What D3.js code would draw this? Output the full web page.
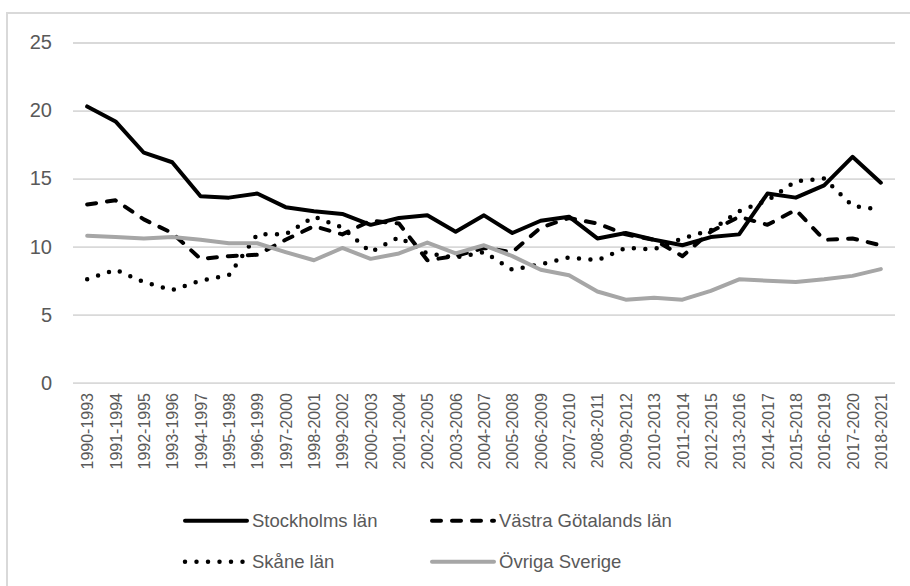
<!DOCTYPE html>
<html>
<head>
<meta charset="utf-8">
<script src="https://cdn.jsdelivr.net/npm/d3@7"></script>
<style>
  body { margin: 0; background: #fff; }
  text { font-family: "Liberation Sans", Arial, sans-serif; fill: #595959; }
</style>
</head>
<body>
<div id="chart"></div>
<script>
// periods on the x axis
const periods = d3.range(1990, 2019).map(y => y + "-" + (y + 3));

const stockholm = [20.3, 19.2, 16.9, 16.2, 13.7, 13.6, 13.9, 12.9, 12.6, 12.4, 11.6, 12.1, 12.3, 11.1, 12.3,
    11.0, 11.9, 12.2, 10.6, 11.0, 10.5, 10.1, 10.7, 10.9, 13.9, 13.6, 14.5, 16.6, 14.7];
const vastra = [13.1, 13.4, 12.0, 11.0, 9.1, 9.3, 9.4, 10.5, 11.5, 10.9, 11.9, 11.7, 9.0, 9.3, 9.9,
    9.6, 11.4, 12.1, 11.7, 10.9, 10.5, 9.3, 11.1, 12.2, 11.6, 12.7, 10.5, 10.6, 10.1];
const skane = [7.6, 8.3, 7.4, 6.8, 7.5, 7.9, 10.9, 10.9, 12.2, 11.4, 9.6, 10.7, 9.5, 9.2, 9.6,
    8.3, 8.7, 9.2, 9.0, 9.9, 9.8, 10.6, 11.2, 12.6, 13.4, 14.8, 15.0, 13.0, 12.7];
const ovriga = [10.8, 10.7, 10.6, 10.7, 10.5, 10.25, 10.25, 9.6, 9.0, 9.9, 9.1, 9.5, 10.3, 9.5, 10.1,
    9.3, 8.3, 7.9, 6.7, 6.1, 6.25, 6.1, 6.75, 7.6, 7.5, 7.4, 7.6, 7.85, 8.35];

const yTicks = [0, 5, 10, 15, 20, 25];

const series = [
    {name: "Stockholms län", values: stockholm, color: "#000", width: 4, dash: null},
    {name: "Västra Götalands län", values: vastra, color: "#000", width: 4, dash: "9,11"},
    {name: "Skåne län", values: skane, color: "#000", width: 4.5, dash: "0,11.5"},
    {name: "Övriga Sverige", values: ovriga, color: "#a6a6a6", width: 4, dash: null}
];

const W = 910, H = 586;

const svg = d3.select("#chart")
    .append("svg")
    .attr("width", W)
    .attr("height", H);

// outer frame
svg.append("rect")
    .attr("x", 7).attr("y", 13)
    .attr("width", W).attr("height", H)
    .attr("fill", "none")
    .attr("stroke", "#d9d9d9")
    .attr("stroke-width", 2);

const x = d3.scalePoint()
    .domain(periods)
    .range([73, 895])
    .padding(0.5);

const y = d3.scaleLinear()
    .domain([0, 25])
    .range([382.7, 42.5]);

// gridlines + y labels
const yAxis = svg.append("g")
    .attr("transform", "translate(73,0)")
    .call(d3.axisLeft(y).tickValues(yTicks).tickSize(-(895 - 73)));
yAxis.select(".domain").remove();
yAxis.selectAll("line").attr("stroke", "#d9d9d9").attr("stroke-width", 1.8);
yAxis.selectAll("text")
    .attr("font-size", 20)
    .attr("x", -21)
    .style("font-family", "Liberation Sans, Arial, sans-serif")
    .attr("fill", "#595959");

// x labels
const xAxis = svg.append("g")
    .attr("transform", "translate(0,383)")
    .call(d3.axisBottom(x).tickSize(0));
xAxis.select(".domain").remove();
xAxis.selectAll("text")
    .attr("font-size", 16)
    .attr("transform", "rotate(-90)")
    .attr("text-anchor", "end")
    .attr("x", -10)
    .attr("y", 0)
    .attr("dy", "0.35em")
    .style("font-family", "Liberation Sans, Arial, sans-serif")
    .attr("fill", "#595959");

const line = d3.line()
    .x((d, i) => x(periods[i]))
    .y(d => y(d));

svg.selectAll(".series")
    .data(series)
    .enter().append("path")
    .attr("class", "series")
    .attr("d", d => line(d.values))
    .attr("fill", "none")
    .attr("stroke", d => d.color)
    .attr("stroke-width", d => d.width)
    .attr("stroke-dasharray", d => d.dash)
    .attr("stroke-linecap", "round")
    .attr("stroke-linejoin", "round");

// legend
const legendPos = [
    {lx: 185, ly: 520.7},
    {lx: 432, ly: 520.7},
    {lx: 185, ly: 561.7},
    {lx: 432, ly: 561.7}
];

const legend = svg.selectAll(".legend")
    .data(series)
    .enter().append("g")
    .attr("class", "legend")
    .attr("transform", (d, i) => "translate(" + legendPos[i].lx + "," + legendPos[i].ly + ")");

legend.append("line")
    .attr("x1", 0).attr("x2", 62)
    .attr("y1", 0).attr("y2", 0)
    .attr("stroke", d => d.color)
    .attr("stroke-width", d => d.width)
    .attr("stroke-dasharray", d => d.dash)
    .attr("stroke-linecap", "round");

legend.append("text")
    .attr("x", 67)
    .attr("y", 0)
    .attr("dy", "0.35em")
    .attr("font-size", 18.5)
    .text(d => d.name);
</script>
</body>
</html>
